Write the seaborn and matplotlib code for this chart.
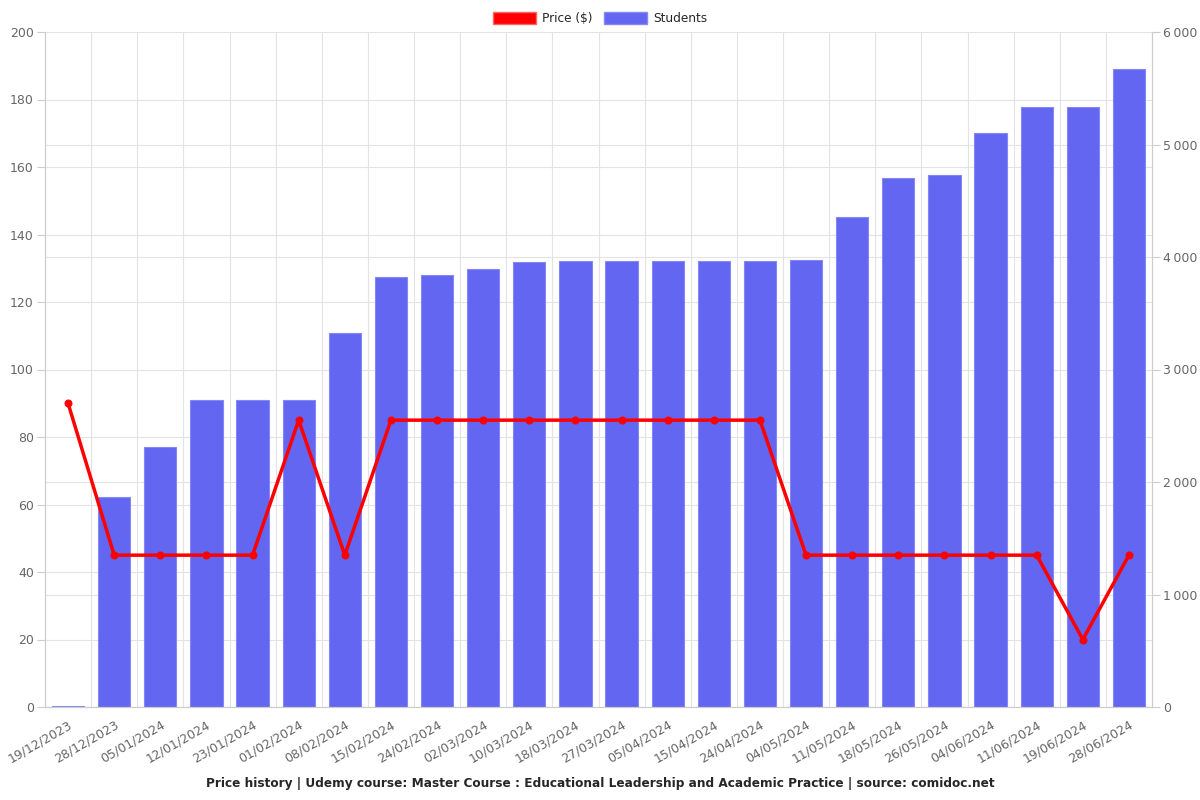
import numpy as np
import pandas as pd
import seaborn as sns
from matplotlib import pyplot as plt
from matplotlib.patches import Patch
from matplotlib.ticker import FixedLocator, FuncFormatter, MultipleLocator

fechas = ['19/12/2023', '28/12/2023', '05/01/2024', '12/01/2024', '23/01/2024',
          '01/02/2024', '08/02/2024', '15/02/2024', '24/02/2024', '02/03/2024',
          '10/03/2024', '18/03/2024', '27/03/2024', '05/04/2024', '15/04/2024',
          '24/04/2024', '04/05/2024', '11/05/2024', '18/05/2024', '26/05/2024',
          '04/06/2024', '11/06/2024', '19/06/2024', '28/06/2024']
precio = [89.99, 44.99, 44.99, 44.99, 44.99, 84.99, 44.99, 84.99, 84.99, 84.99,
          84.99, 84.99, 84.99, 84.99, 84.99, 84.99, 44.99, 44.99, 44.99, 44.99,
          44.99, 44.99, 19.99, 44.99]
estudiantes = [8, 1867, 2311, 2729, 2731, 2733, 3324, 3822, 3843, 3893,
               3956, 3963, 3964, 3965, 3967, 3968, 3972, 4356, 4702, 4729,
               5102, 5333, 5335, 5671]

datos = pd.DataFrame({'fecha': fechas, 'precio': precio, 'estudiantes': estudiantes})
x = np.arange(len(fechas))

sns.set_style('white')
plt.rcParams['font.family'] = ['DejaVu Sans']
gris = '#666666'
borde = '#cccccc'
fs = 9

fig = plt.figure(figsize=(12, 8), dpi=100)
ax_s = fig.add_axes([0.0375, 0.11625, 0.9225, 0.84375])

sns.barplot(data=datos, x='fecha', y='estudiantes', color='#6366F1',
            saturation=1, width=0.7, ax=ax_s, zorder=2,
            edgecolor='#8587f3', linewidth=0.8)
ax_s.set_xlim(-0.5, len(fechas) - 0.5)
ax_s.set_ylim(0, 6000)
ax_s.set_xlabel('')
ax_s.set_ylabel('')

ax_p = ax_s.twinx()
sns.lineplot(x=x, y=datos['precio'], color='#FF0000', linewidth=2.5, marker='o',
             markersize=5, markeredgecolor='#FF0000', ax=ax_p, zorder=5)
ax_p.set_ylim(0, 200)
ax_p.set_yticks(np.arange(0, 201, 20))
ax_p.set_ylabel('')
ax_p.yaxis.tick_left()
ax_p.tick_params(axis='y', length=6, pad=2, color=borde, labelsize=fs, labelcolor=gris)
ax_p.patch.set_visible(False)

# eje de estudiantes a la derecha (twinx lo manda a la izquierda)
ax_s.yaxis.tick_right()
ax_s.set_yticks(np.arange(0, 6001, 1000))
ax_s.yaxis.set_major_formatter(FuncFormatter(lambda v, p: f'{int(v):,}'.replace(',', '\u2009')))
# rejilla del precio (cada 20) dibujada detrás de las barras
ax_s.yaxis.set_minor_locator(MultipleLocator(600))
ax_s.xaxis.set_minor_locator(FixedLocator(x[:-1] + 0.5))
ax_s.grid(True, axis='y', which='both', color='#e3e3e3', linewidth=0.8)
ax_s.grid(True, axis='x', which='minor', color='#e3e3e3', linewidth=0.8)
ax_s.set_axisbelow(True)
ax_s.tick_params(axis='x', which='major', length=0, pad=8, labelsize=fs, labelcolor=gris,
                 labelrotation=30)
ax_s.tick_params(axis='x', which='minor', length=6, color=borde)
ax_s.tick_params(axis='y', which='major', length=6, pad=2, color=borde, labelsize=fs,
                 labelcolor=gris)
ax_s.tick_params(axis='y', which='minor', length=0)
for lbl in ax_s.get_xticklabels():
    lbl.set_ha('right')
    lbl.set_rotation_mode('anchor')

for a in (ax_s, ax_p):
    for s in a.spines.values():
        s.set_color(borde)
    a.spines['top'].set_visible(False)

handles = [Patch(facecolor='#FF0000', edgecolor='#ff6666'),
           Patch(facecolor='#6366F1', edgecolor='#8587f3')]
fig.legend(handles, ['Price ($)', 'Students'], loc='upper center',
           bbox_to_anchor=(0.5, 0.999), ncol=2, frameon=False, fontsize=8.7,
           handlelength=3.6, handleheight=1.2, columnspacing=0.9, handletextpad=0.5)

fig.text(0.5, 0.012, 'Price history | Udemy course: Master Course : Educational Leadership '
         'and Academic Practice | source: comidoc.net', ha='center', va='bottom',
         fontsize=8.7, fontweight='bold')

fig.savefig('out.png', dpi=100)
